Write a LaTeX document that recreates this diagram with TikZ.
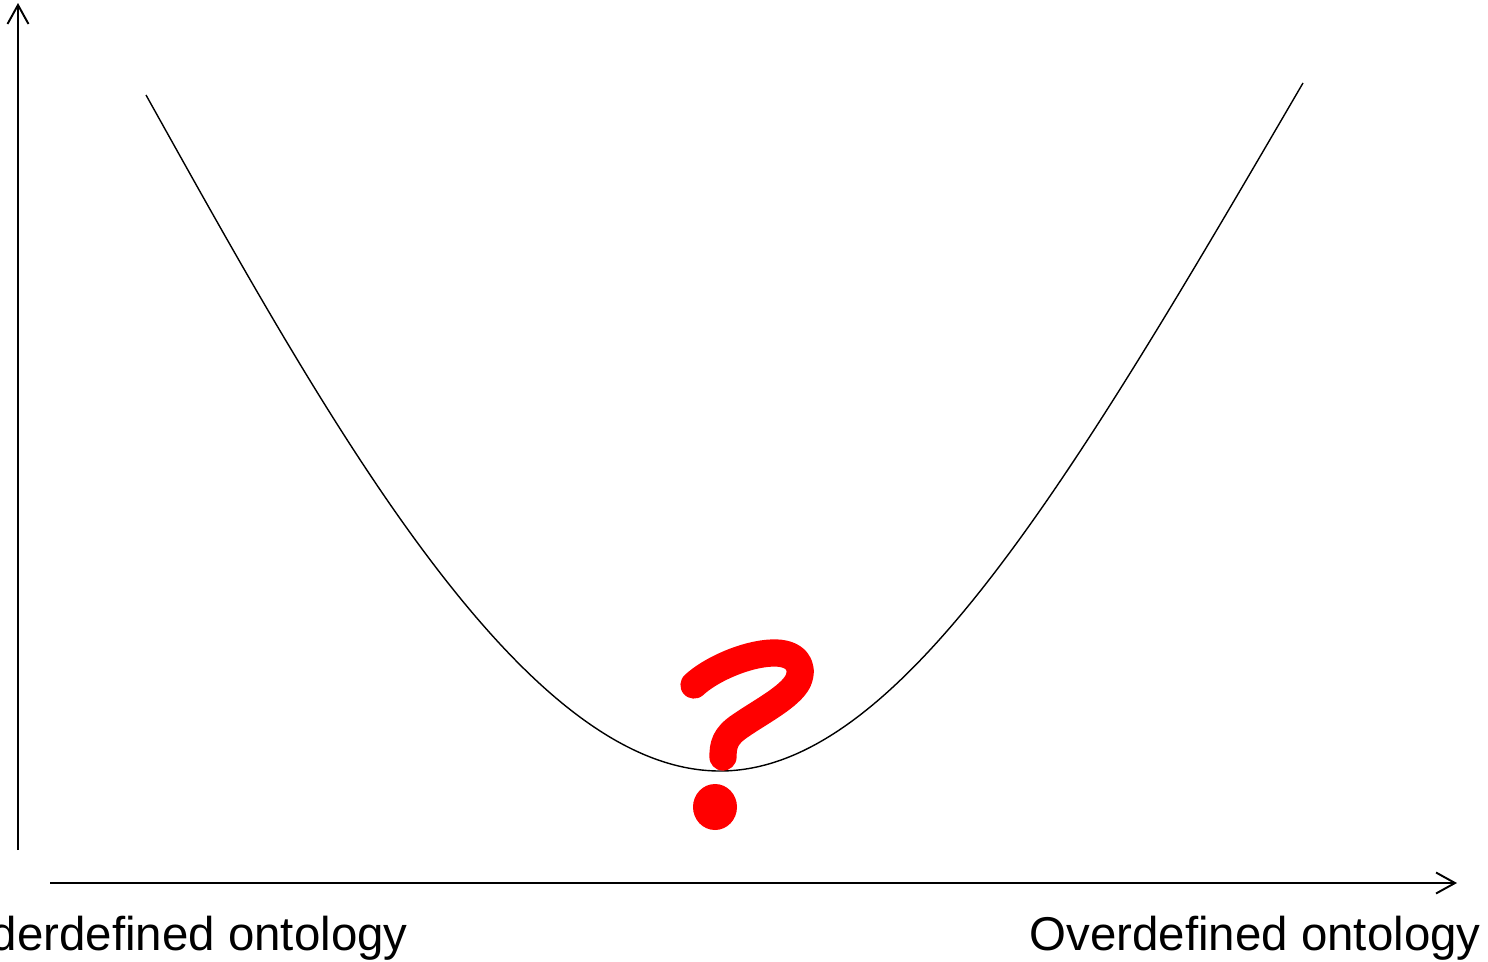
\documentclass[tikz,border=0pt]{standalone}
\usepackage{fontspec}
\setmainfont{Liberation Sans}
\usetikzlibrary{arrows.meta}
\definecolor{qred}{HTML}{FF0000}

\begin{document}
\begin{tikzpicture}[x=0.02cm, y=-0.02cm,
    axis/.style={line width=1.1pt, -{Straight Barb[length=0.38cm, width=0.42cm, line width=1.1pt]}},
    curve/.style={line width=0.8pt},
    lbl/.style={anchor=base east, inner sep=0pt, font=\fontsize{27}{32}\selectfont},
    qmark/.style={draw=qred, line width=15.5pt, line cap=round, line join=round}]
  \useasboundingbox (0,0) rectangle (1488,961);

  % axes
  \coordinate (ybot) at (18,850);
  \coordinate (ytop) at (18,3);
  \coordinate (xleft) at (50,883);
  \coordinate (xright) at (1457,883);
  \draw[axis] (ybot) -- (ytop);
  \draw[axis] (xleft) -- (xright);

  % the valley
  \coordinate (ltop) at (146,95);
  \coordinate (vmin) at (720,771);
  \coordinate (rtop) at (1303,83);
  \draw[curve] (ltop) .. controls (324,414) and (520,771) .. (vmin)
    .. controls (900,771) and (1072,479) .. (rtop);

  % question mark
  \draw[qmark] (694,685) .. controls (710,670) and (745,654) .. (772,653)
    .. controls (795,652) and (805,665) .. (798,681)
    .. controls (790,697) and (760,712) .. (740,726)
    .. controls (725,736) and (723,745) .. (723,757);
  \fill[qred] (715,807) ellipse [x radius=22, y radius=23];

  % end labels
  \node[lbl] (under) at (408,950) {Underdefined ontology};
  \node[lbl] (over) at (1481,950) {Overdefined ontology};
\end{tikzpicture}
\end{document}
